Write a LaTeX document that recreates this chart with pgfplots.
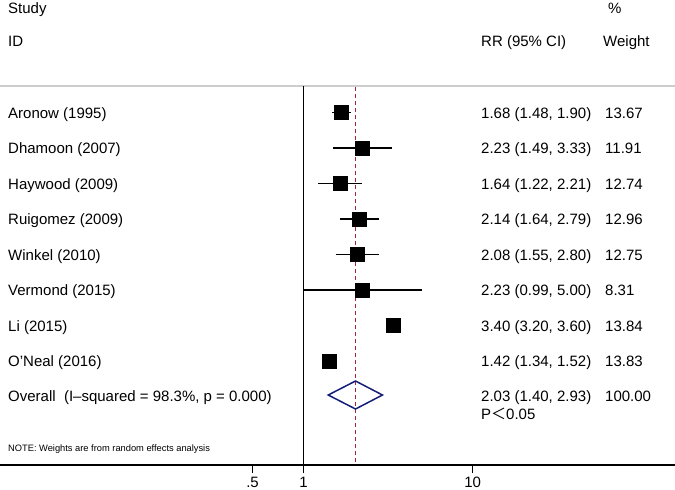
\documentclass[border=0pt]{standalone}
\usepackage{fontspec}
\setmainfont{Liberation Sans}
\newfontfamily\cjk{Noto Sans CJK SC}
\usepackage{pgfplots}
\pgfplotsset{compat=1.18}
\usepackage{xcolor}

\definecolor{refred}{RGB}{160,40,55}
\definecolor{diamondblue}{RGB}{20,30,120}
\definecolor{sepgray}{RGB}{205,205,205}

\begin{document}
\begin{tikzpicture}[font=\fontsize{15pt}{18pt}\selectfont]
\begin{axis}[
    name=ax, at={(0,0)}, anchor=north west,
    scale only axis, width=675pt, height=465pt,
    xmode=log, xmin=0.01608, xmax=156.9,
    ymin=0, ymax=465, y dir=reverse,
    axis x line*=bottom, axis y line=none,
    x axis line style={-, line width=1.3pt},
    xtick={0.5,1,10}, xticklabels={.5,1,10},
    minor xtick={}, log ticks with fixed point,
    tick align=outside, major tick length=8pt,
    every tick/.style={black, line width=1.3pt},
    xticklabel style={inner sep=0pt, anchor=north, yshift=-4pt},
    ytick=\empty, clip=false,
]
% separator under the header
\addplot[sepgray, line width=1.5pt] coordinates {(0.01608,86) (156.9,86)};
% line of no effect and overall estimate
\addplot[black, line width=1.3pt] coordinates {(1,86) (1,465)};
\addplot[refred, line width=1.2pt, dash pattern=on 4pt off 3pt] coordinates {(2.03,87) (2.03,465)};
% confidence intervals
\addplot[black, line width=1.5pt] coordinates {(1.48,112.5) (1.90,112.5)};
\addplot[black, line width=1.5pt] coordinates {(1.49,148) (3.33,148)};
\addplot[black, line width=1.5pt] coordinates {(1.22,183.5) (2.21,183.5)};
\addplot[black, line width=1.5pt] coordinates {(1.64,219) (2.79,219)};
\addplot[black, line width=1.5pt] coordinates {(1.55,254.5) (2.80,254.5)};
\addplot[black, line width=1.5pt] coordinates {(0.99,290) (5.00,290)};
\addplot[black, line width=1.5pt] coordinates {(3.20,325.5) (3.60,325.5)};
\addplot[black, line width=1.5pt] coordinates {(1.34,361) (1.52,361)};
% point estimates
\addplot[only marks, mark=square*, mark size=7pt, black] coordinates {
    (1.68,112.5) (2.23,148) (1.64,183.5) (2.14,219)
    (2.08,254.5) (2.23,290) (3.40,325.5) (1.42,361)
};
% pooled estimate
\addplot[diamondblue, line width=1.5pt, line join=miter] coordinates {
    (1.40,395) (2.03,381) (2.93,395) (2.03,409)
} -- cycle;
\end{axis}

\begin{scope}[every node/.style={inner sep=0pt}]
\node[anchor=base west] at (8pt,-13.3pt) {Study};
\node[anchor=base west] at (8pt,-46.7pt) {ID};
\node[anchor=base west] at (481pt,-46.7pt) {RR (95\% CI)};
\node[anchor=base west] at (608pt,-13.3pt) {\%};
\node[anchor=base west] at (603pt,-46.7pt) {Weight};

\node[anchor=base west] at (8pt,-118.3pt) {Aronow (1995)};
\node[anchor=base west] at (8pt,-153.8pt) {Dhamoon (2007)};
\node[anchor=base west] at (8pt,-189.3pt) {Haywood (2009)};
\node[anchor=base west] at (8pt,-224.8pt) {Ruigomez (2009)};
\node[anchor=base west] at (8pt,-260.3pt) {Winkel (2010)};
\node[anchor=base west] at (8pt,-295.8pt) {Vermond (2015)};
\node[anchor=base west] at (8pt,-331.3pt) {Li (2015)};
\node[anchor=base west] at (8pt,-366.8pt) {O’Neal (2016)};
\node[anchor=base west] at (8pt,-401.7pt) {Overall\ \ (I--squared = 98.3\%, p = 0.000)};

\node[anchor=base west] at (481pt,-118.3pt) {1.68 (1.48, 1.90)};
\node[anchor=base west] at (481pt,-153.8pt) {2.23 (1.49, 3.33)};
\node[anchor=base west] at (481pt,-189.3pt) {1.64 (1.22, 2.21)};
\node[anchor=base west] at (481pt,-224.8pt) {2.14 (1.64, 2.79)};
\node[anchor=base west] at (481pt,-260.3pt) {2.08 (1.55, 2.80)};
\node[anchor=base west] at (481pt,-295.8pt) {2.23 (0.99, 5.00)};
\node[anchor=base west] at (481pt,-331.3pt) {3.40 (3.20, 3.60)};
\node[anchor=base west] at (481pt,-366.8pt) {1.42 (1.34, 1.52)};
\node[anchor=base west] at (481pt,-401.7pt) {2.03 (1.40, 2.93)};
\node[anchor=base west] at (481pt,-419pt) {P{\cjk ＜}0.05};

\node[anchor=base west] at (605pt,-118.3pt) {13.67};
\node[anchor=base west] at (605pt,-153.8pt) {11.91};
\node[anchor=base west] at (605pt,-189.3pt) {12.74};
\node[anchor=base west] at (605pt,-224.8pt) {12.96};
\node[anchor=base west] at (605pt,-260.3pt) {12.75};
\node[anchor=base west] at (605pt,-295.8pt) {8.31};
\node[anchor=base west] at (605pt,-331.3pt) {13.84};
\node[anchor=base west] at (605pt,-366.8pt) {13.83};
\node[anchor=base west] at (605pt,-401.7pt) {100.00};

\node[anchor=base west, font=\fontsize{9.3pt}{11pt}\selectfont] at (8pt,-451.7pt) {NOTE: Weights are from random effects analysis};
\end{scope}

\pgfresetboundingbox
\path[use as bounding box] (0,0) rectangle (675pt,-490pt);
\end{tikzpicture}
\end{document}
